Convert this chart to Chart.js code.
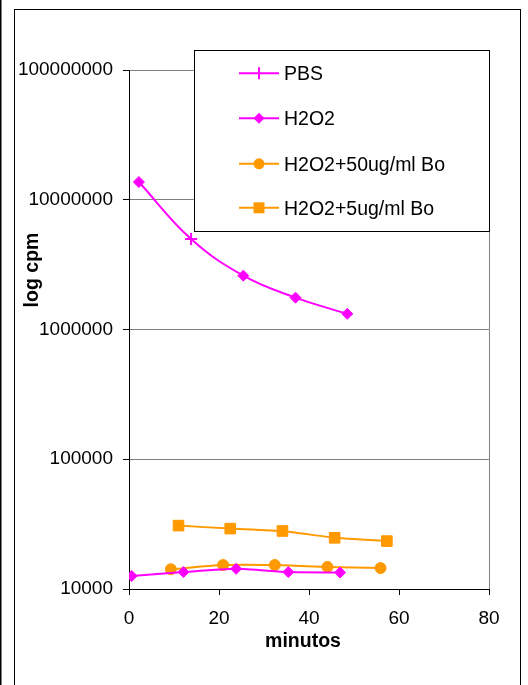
<!DOCTYPE html>
<html>
<head>
<meta charset="utf-8">
<script src="https://cdn.jsdelivr.net/npm/chart.js@4.4.1/dist/chart.umd.min.js"></script>
<style>
  html, body { margin: 0; padding: 0; background: #fff; }
  #wrap { width: 528px; height: 685px; }
</style>
</head>
<body>
<div id="wrap"><canvas id="chart" width="528" height="685"></canvas></div>
<script>
// values (minutes / cpm)
const xH2O2 = [2.2, 13.8, 25.4, 37.0, 48.5];
const yH2O2 = [13700000, 4980000, 2600000, 1760000, 1320000];
const xPBS = [0.6, 12.1, 23.8, 35.4, 46.9];
const yPBS = [12600, 13500, 14300, 13500, 13400];
const xBo50 = [9.3, 20.9, 32.4, 44.1, 55.9];
const yBo50 = [14200, 15300, 15300, 14800, 14500];
const xBo5 = [11.0, 22.5, 34.1, 45.7, 57.3];
const yBo5 = [30800, 29200, 28000, 24800, 23400];

const yTicks = [10000, 100000, 1000000, 10000000, 100000000];
const xTicks = [0, 20, 40, 60, 80];
const legendLabels = ["PBS", "H2O2", "H2O2+50ug/ml Bo", "H2O2+5ug/ml Bo"];

const MAGENTA = "#FF00FF";
const ORANGE = "#FF9900";
const FONT = "'Liberation Sans', Arial, sans-serif";

function pts(xs, ys) {
    return xs.map((x, i) => ({ x: x, y: ys[i] }));
}

// small marker painter, used for the legend
function marker(ctx, style, x, y, color) {
    ctx.save();
    ctx.fillStyle = color;
    ctx.strokeStyle = color;
    ctx.lineWidth = 2;
    ctx.beginPath();
    if (style === "diamond") {
        ctx.moveTo(x, y - 5.5); ctx.lineTo(x + 5.5, y); ctx.lineTo(x, y + 5.5); ctx.lineTo(x - 5.5, y);
        ctx.closePath(); ctx.fill();
    } else if (style === "circle") {
        ctx.arc(x, y, 5.5, 0, Math.PI * 2); ctx.fill();
    } else if (style === "square") {
        ctx.rect(x - 5.5, y - 5.5, 11, 11); ctx.fill();
    } else if (style === "cross") {
        ctx.moveTo(x, y - 6); ctx.lineTo(x, y + 6); ctx.stroke();
    }
    ctx.restore();
}

const framePlugin = {
    id: "frame",
    beforeDraw(chart) {
        const ctx = chart.ctx;
        ctx.save();
        ctx.fillStyle = "#fff";
        ctx.fillRect(0, 0, chart.width, chart.height);
        ctx.fillStyle = "#000";
        ctx.fillRect(0, 0, 1.5, chart.height);
        ctx.strokeStyle = "#000";
        ctx.lineWidth = 1;
        ctx.strokeRect(14.5, 9.5, 506, 700);
        ctx.restore();
    },
    beforeDatasetsDraw(chart) {
        const { ctx, chartArea: a } = chart;
        ctx.save();
        ctx.strokeStyle = "#808080";
        ctx.lineWidth = 1;
        ctx.beginPath();
        ctx.moveTo(a.right + 0.5, a.top);
        ctx.lineTo(a.right + 0.5, a.bottom);
        ctx.stroke();
        ctx.restore();
    },
    afterDraw(chart) {
        const ctx = chart.ctx;
        ctx.save();
        // axis titles
        ctx.fillStyle = "#000";
        ctx.font = "bold 19.5px " + FONT;
        ctx.textAlign = "center";
        ctx.textBaseline = "alphabetic";
        ctx.fillText("minutos", 303, 647);
        ctx.translate(38, 270);
        ctx.rotate(-Math.PI / 2);
        ctx.fillText("log cpm", 0, 0);
        ctx.restore();

        // legend box
        ctx.save();
        ctx.fillStyle = "#fff";
        ctx.fillRect(194, 50, 295, 181);
        ctx.strokeStyle = "#000";
        ctx.lineWidth = 1;
        ctx.strokeRect(194.5, 50.5, 295, 181);
        const styles = ["cross", "diamond", "circle", "square"];
        const colors = [MAGENTA, MAGENTA, ORANGE, ORANGE];
        const baselines = [80, 125, 170.5, 214.5];
        ctx.font = "19.5px " + FONT;
        ctx.textAlign = "left";
        ctx.textBaseline = "alphabetic";
        legendLabels.forEach((lab, i) => {
            const cy = baselines[i] - 6.7;
            ctx.strokeStyle = colors[i];
            ctx.lineWidth = 2;
            ctx.beginPath();
            ctx.moveTo(239, cy);
            ctx.lineTo(279, cy);
            ctx.stroke();
            marker(ctx, styles[i], 259, cy, colors[i]);
            ctx.fillStyle = "#000";
            ctx.fillText(lab, 284, baselines[i]);
        });
        ctx.restore();
    }
};

new Chart(document.getElementById("chart"), {
    type: "line",
    data: {
        datasets: [
            {
                label: "H2O2",
                data: pts(xH2O2, yH2O2),
                borderColor: MAGENTA,
                backgroundColor: MAGENTA,
                borderWidth: 2,
                tension: 0.4,
                pointStyle: ["rectRot", "cross", "rectRot", "rectRot", "rectRot"],
                pointRadius: [5.5, 6, 5.5, 5.5, 5.5],
                pointBorderWidth: [1, 2, 1, 1, 1]
            },
            {
                label: "PBS",
                data: pts(xPBS, yPBS),
                borderColor: MAGENTA,
                backgroundColor: MAGENTA,
                borderWidth: 2,
                tension: 0.2,
                pointStyle: "rectRot",
                pointRadius: 5.5,
                pointBorderWidth: 1
            },
            {
                label: "H2O2+50ug/ml Bo",
                data: pts(xBo50, yBo50),
                borderColor: ORANGE,
                backgroundColor: ORANGE,
                borderWidth: 2,
                tension: 0.2,
                pointStyle: "circle",
                pointRadius: 5.5,
                pointBorderWidth: 1
            },
            {
                label: "H2O2+5ug/ml Bo",
                data: pts(xBo5, yBo5),
                borderColor: ORANGE,
                backgroundColor: ORANGE,
                borderWidth: 2,
                tension: 0.1,
                pointStyle: "rect",
                pointRadius: 7.5,
                pointBorderWidth: 1
            }
        ]
    },
    options: {
        responsive: false,
        animation: false,
        layout: { padding: { left: 0, right: 39, top: 70, bottom: 0 } },
        plugins: {
            legend: { display: false },
            tooltip: { enabled: false }
        },
        scales: {
            x: {
                type: "linear",
                min: 0,
                max: 80,
                afterFit(scale) { scale.height = 96; },
                afterBuildTicks(scale) { scale.ticks = xTicks.map(v => ({ value: v })); },
                grid: { drawOnChartArea: false, drawTicks: true, tickLength: 6, tickColor: "#000" },
                border: { color: "#000", width: 1 },
                ticks: { color: "#000", font: { family: FONT, size: 19 }, padding: 12, maxRotation: 0 }
            },
            y: {
                type: "logarithmic",
                min: 10000,
                max: 100000000,
                afterFit(scale) { scale.width = 129; },
                afterBuildTicks(scale) { scale.ticks = yTicks.map(v => ({ value: v })); },
                grid: {
                    color: ctx => (ctx.tick && ctx.tick.value === 10000 ? "rgba(0,0,0,0)" : "#808080"),
                    tickColor: "#000",
                    tickLength: 6,
                    lineWidth: 1
                },
                border: { color: "#000", width: 1 },
                ticks: {
                    color: "#000",
                    font: { family: FONT, size: 19 },
                    padding: 10,
                    callback: v => String(v)
                }
            }
        }
    },
    plugins: [framePlugin]
});
</script>
</body>
</html>
